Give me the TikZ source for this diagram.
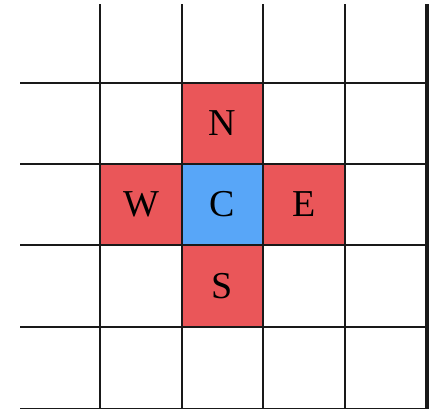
\documentclass[tikz,border=0pt]{standalone}
\usepackage{fontspec}
\setmainfont{Liberation Serif}
\definecolor{cellred}{RGB}{234,86,89}
\definecolor{cellblue}{RGB}{88,166,248}
\tikzset{
  cell/.style={minimum width=81.5pt,minimum height=81.5pt,inner sep=0pt,outer sep=0pt,font=\fontsize{38}{40}\selectfont},
  redcell/.style={cell,fill=cellred},
  bluecell/.style={cell,fill=cellblue},
  gridline/.style={line width=2pt,black!90}
}
\begin{document}
\begin{tikzpicture}[x=1pt,y=-1pt]
\useasboundingbox (0,0) rectangle (436,408);
\node[redcell] (N) at (222.5,123.5) {N};
\node[redcell] (W) at (141,204.5) {W};
\node[bluecell] (C) at (222.5,204.5) {C};
\node[redcell] (E) at (304,204.5) {E};
\node[redcell] (S) at (222.5,286) {S};
\foreach \x in {100,182,263,345}{\draw[gridline] (\x,4) -- (\x,410);}
\draw[line width=3.5pt,black!90] (427,4) -- (427,410);
\foreach \y in {83,164,245,327}{\draw[gridline] (20,\y) -- (427,\y);}
\draw[gridline] (20,408.5) -- (427,408.5);
\end{tikzpicture}
\end{document}
